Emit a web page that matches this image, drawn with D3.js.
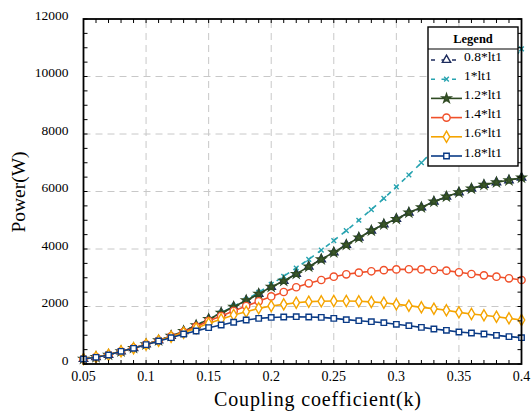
<!DOCTYPE html>
<html lang="en">
<head>
<meta charset="UTF-8">
<title>Power vs coupling coefficient</title>
<script src="https://d3js.org/d3.v7.min.js"></script>
<style>
  body { margin: 0; background: #fff; }
  svg { display: block; font-family: "Liberation Serif", "DejaVu Serif", serif; }
  .grid line { stroke: #c8c8c8; stroke-dasharray: 7,5; stroke-width: 1; }
</style>
</head>
<body>
<div id="chart"></div>
<script>
// coupling coefficient k
const kValues = [0.05, 0.06, 0.07, 0.08, 0.09, 0.10, 0.11, 0.12, 0.13, 0.14, 0.15, 0.16,
                 0.17, 0.18, 0.19, 0.20, 0.21, 0.22, 0.23, 0.24, 0.25, 0.26, 0.27, 0.28,
                 0.29, 0.30, 0.31, 0.32, 0.33, 0.34, 0.35, 0.36, 0.37, 0.38, 0.39, 0.40];

// power (W) for each lt1 multiple
const p08 = [174, 240, 320, 440, 555, 685, 820, 975, 1140, 1340, 1560, 1775,
             1990, 2210, 2440, 2680, 2887, 3130, 3385, 3641, 3884, 4139, 4394, 4637,
             4858, 5043, 5264, 5449, 5646, 5820, 5971, 6099, 6226, 6319, 6389, 6481];
const p10 = [174, 240, 320, 440, 555, 685, 820, 975, 1140, 1345, 1565, 1785,
             2005, 2235, 2490, 2771, 3050, 3340, 3640, 3960, 4290, 4640, 5000, 5370,
             5760, 6160, 6575, 7000, 7450, 7920, 8400, 8880, 9380, 9890, 10420, 10960];
const p12 = [174, 240, 320, 440, 555, 685, 820, 975, 1140, 1340, 1560, 1775,
             1990, 2210, 2440, 2680, 2887, 3130, 3385, 3641, 3884, 4139, 4394, 4637,
             4858, 5043, 5264, 5449, 5646, 5820, 5971, 6099, 6226, 6319, 6389, 6481];
const p14 = [174, 240, 320, 440, 555, 685, 815, 960, 1110, 1299, 1496, 1670,
             1843, 2017, 2180, 2350, 2504, 2670, 2806, 2922, 3037, 3119, 3177, 3225,
             3265, 3290, 3295, 3290, 3270, 3247, 3189, 3130, 3084, 3037, 2980, 2922];
const p16 = [174, 240, 320, 440, 550, 680, 810, 945, 1090, 1241, 1415, 1554,
             1704, 1820, 1936, 2017, 2075, 2133, 2168, 2180, 2191, 2191, 2180, 2160,
             2133, 2075, 2029, 1971, 1925, 1867, 1797, 1739, 1693, 1646, 1588, 1530];
const p18 = [174, 232, 313, 441, 545, 673, 800, 916, 1043, 1148, 1264, 1357,
             1450, 1530, 1588, 1620, 1635, 1646, 1635, 1623, 1588, 1542, 1507, 1472,
             1437, 1380, 1333, 1275, 1217, 1171, 1113, 1078, 1043, 997, 951, 916];

const seriesNames = ["0.8*lt1", "1*lt1", "1.2*lt1", "1.4*lt1", "1.6*lt1", "1.8*lt1"];
const xTicks = [0.05, 0.1, 0.15, 0.2, 0.25, 0.3, 0.35, 0.4];
const yTicks = [0, 2000, 4000, 6000, 8000, 10000, 12000];

const series = [
  { name: seriesNames[0], values: p08, color: "#1c2b5c", dash: "5,5", symbol: d3.symbolTriangle, size: 30, fill: "#fff" },
  { name: seriesNames[1], values: p10, color: "#27a3b0", dash: "5,5", symbol: d3.symbolTimes, size: 16, fill: "none" },
  { name: seriesNames[2], values: p12, color: "#2f4a22", dash: null, symbol: d3.symbolStar, size: 24, fill: "#3d5a2c" },
  { name: seriesNames[3], values: p14, color: "#f0502a", dash: null, symbol: d3.symbolCircle, size: 42, fill: "#fff" },
  { name: seriesNames[4], values: p16, color: "#f5a400", dash: null, symbol: d3.symbolDiamond, size: 36, fill: "#fff" },
  { name: seriesNames[5], values: p18, color: "#0b3b86", dash: null, symbol: d3.symbolSquare, size: 30, fill: "#fff" }
];

const width = 531, height = 416;
const margin = { top: 19, right: 9.5, bottom: 52, left: 83.5 };

const svg = d3.select("#chart").append("svg")
  .attr("width", width)
  .attr("height", height);

const x = d3.scaleLinear().domain([0.05, 0.4]).range([margin.left, width - margin.right]);
const y = d3.scaleLinear().domain([0, 12000]).range([height - margin.bottom, margin.top]);

// grid
const grid = svg.append("g").attr("class", "grid");
grid.selectAll(".gx")
  .data(xTicks.slice(1, -1))
  .join("line")
  .attr("x1", d => x(d)).attr("x2", d => x(d))
  .attr("y1", y(0)).attr("y2", y(12000));
grid.selectAll(".gy")
  .data(yTicks.slice(1, -1))
  .join("line")
  .attr("y1", d => y(d)).attr("y2", d => y(d))
  .attr("x1", x(0.05)).attr("x2", x(0.4));

// lines and markers
const line = d3.line()
  .x((d, i) => x(kValues[i]))
  .y(d => y(d));

series.forEach(s => {
  const g = svg.append("g");
  g.append("path")
    .datum(s.values)
    .attr("fill", "none")
    .attr("stroke", s.color)
    .attr("stroke-width", 1.6)
    .attr("stroke-dasharray", s.dash)
    .attr("d", line);
  g.selectAll("path.mk")
    .data(s.values)
    .join("path")
    .attr("class", "mk")
    .attr("transform", (d, i) => `translate(${x(kValues[i])},${y(d)})`)
    .attr("d", d3.symbol().type(s.symbol).size(s.size))
    .attr("fill", s.fill)
    .attr("stroke", s.color)
    .attr("stroke-width", 1.4);
});

// axes with inward ticks on all four sides
const minorX = d3.range(36).map(i => 0.05 + i * 0.01);
const minorY = d3.range(25).map(i => i * 500);

const axisG = svg.append("g").attr("stroke", "#000");
axisG.selectAll(".tb")
  .data(minorX)
  .join("line")
  .attr("x1", d => x(d)).attr("x2", d => x(d))
  .attr("y1", y(0)).attr("y2", y(0) - 4);
axisG.selectAll(".tt")
  .data(minorX)
  .join("line")
  .attr("x1", d => x(d)).attr("x2", d => x(d))
  .attr("y1", y(12000)).attr("y2", y(12000) + 4);
axisG.selectAll(".tl")
  .data(minorY)
  .join("line")
  .attr("y1", d => y(d)).attr("y2", d => y(d))
  .attr("x1", x(0.05)).attr("x2", x(0.05) + 4);
axisG.selectAll(".tr")
  .data(minorY)
  .join("line")
  .attr("y1", d => y(d)).attr("y2", d => y(d))
  .attr("x1", x(0.4)).attr("x2", x(0.4) - 4);

svg.append("rect")
  .attr("x", x(0.05)).attr("y", y(12000))
  .attr("width", x(0.4) - x(0.05)).attr("height", y(0) - y(12000))
  .attr("fill", "none").attr("stroke", "#000").attr("stroke-width", 1.8);

// tick labels
svg.append("g").selectAll("text")
  .data(xTicks)
  .join("text")
  .attr("x", d => x(d))
  .attr("y", y(0) + 17)
  .attr("text-anchor", "middle")
  .attr("font-size", 14)
  .text(d => d);

svg.append("g").selectAll("text")
  .data(yTicks)
  .join("text")
  .attr("x", x(0.05) - 15)
  .attr("y", d => y(d))
  .attr("dy", "0.05em")
  .attr("text-anchor", "end")
  .attr("font-size", 13.5)
  .text(d => d);

// axis titles
svg.append("text")
  .attr("x", 214)
  .attr("y", 406)
  .attr("font-size", 20)
  .attr("textLength", 207)
  .attr("lengthAdjust", "spacing")
  .text("Coupling coefficient(k)");

svg.append("text")
  .attr("transform", `translate(25,192) rotate(-90)`)
  .attr("text-anchor", "middle")
  .attr("font-size", 19.5)
  .text("Power(W)");

// legend
const lg = svg.append("g").attr("transform", "translate(428,27)");
lg.append("rect")
  .attr("width", 90).attr("height", 139)
  .attr("fill", "#fff").attr("stroke", "#000").attr("stroke-width", 1.4);
lg.append("line")
  .attr("x1", 0).attr("x2", 90).attr("y1", 22).attr("y2", 22)
  .attr("stroke", "#000").attr("stroke-width", 1.2);
lg.append("text")
  .attr("x", 45).attr("y", 16)
  .attr("text-anchor", "middle")
  .attr("font-size", 12.5)
  .attr("font-weight", "bold")
  .text("Legend");

series.forEach((s, i) => {
  const ry = 33 + i * 19.2;
  const row = lg.append("g").attr("transform", `translate(0,${ry})`);
  row.append("line")
    .attr("x1", 3).attr("x2", 34)
    .attr("stroke", s.color).attr("stroke-width", 1.6)
    .attr("stroke-dasharray", s.dash ? "4,6.5" : null);
  row.append("path")
    .attr("transform", "translate(18.5,0)")
    .attr("d", d3.symbol().type(s.symbol).size(s.size))
    .attr("fill", s.fill)
    .attr("stroke", s.color).attr("stroke-width", 1.4);
  row.append("text")
    .attr("x", 36).attr("y", 0)
    .attr("dy", "0.05em")
    .attr("font-size", 13.5)
    .text(s.name);
});
</script>
</body>
</html>
